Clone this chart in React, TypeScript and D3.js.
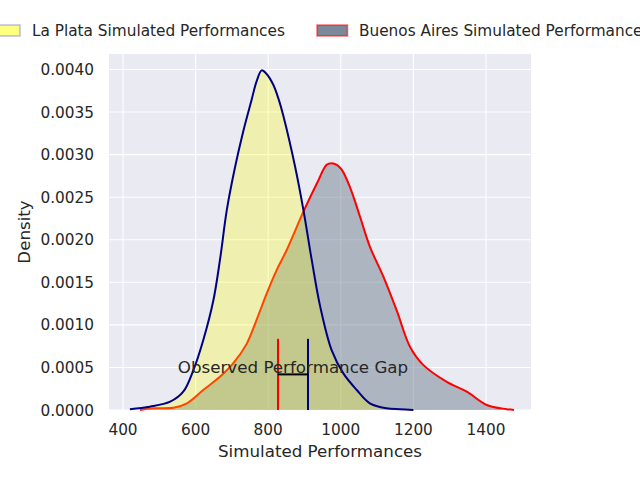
import React from "react";
import * as d3 from "d3";

const laPlataX = [419, 474, 530, 566, 594, 621, 649, 667, 686, 708, 731, 754, 768, 782, 795, 814, 828, 842, 874, 897, 920, 943, 975, 1007, 1044, 1080, 1126, 1163, 1200];
const laPlataY = [0.00001, 0.000039, 0.0000975, 0.000215, 0.00047, 0.00082, 0.00129, 0.00176, 0.00235, 0.00284, 0.00327, 0.00364, 0.00386, 0.00399, 0.00395, 0.00382, 0.00366, 0.00345, 0.00286, 0.00235, 0.00176, 0.00122, 0.0007, 0.00043, 0.000235, 0.000079, 0.00002, 0.00001, 0];

const buenosX = [447, 484, 539, 576, 621, 667, 704, 741, 768, 796, 823, 851, 897, 934, 961, 975, 989, 1003, 1025, 1053, 1080, 1117, 1154, 1191, 1227, 1292, 1347, 1402, 1457, 1477];
const buenosY = [0, 0.00002, 0.000027, 0.000079, 0.000235, 0.00039, 0.00055, 0.00078, 0.00106, 0.00137, 0.00164, 0.00188, 0.00233, 0.00266, 0.00288, 0.0029, 0.00288, 0.00282, 0.00262, 0.00227, 0.00192, 0.00157, 0.00117, 0.00074, 0.00053, 0.00033, 0.000215, 0.000059, 0.00001, 0];

const xTicks = [400, 600, 800, 1000, 1200, 1400];
const yTicks = [0, 0.0005, 0.001, 0.0015, 0.002, 0.0025, 0.003, 0.0035, 0.004];

const observedBuenos = 827;
const observedLaPlata = 909.6;
const gapLabel = "Observed Performance Gap";
const gapLabelY = 0.0005;
const seriesNames = ["La Plata Simulated Performances", "Buenos Aires Simulated Performances"];

const FONT = "DejaVu Sans, sans-serif";
const TXT = "#262626";

export default function App() {
  const left = 109, right = 531, top = 54, bottom = 410;
  const x = d3.scaleLinear().domain([361.4, 1524]).range([left, right]);
  const y = d3.scaleLinear().domain([0, 0.004182]).range([bottom, top]);

  const lp = laPlataX.map((v, i) => [v, laPlataY[i]] as [number, number]);
  const ba = buenosX.map((v, i) => [v, buenosY[i]] as [number, number]);

  const curve = d3.curveCatmullRom.alpha(0.5);
  const area = d3
    .area<[number, number]>()
    .x((d) => x(d[0]))
    .y0(y(0))
    .y1((d) => Math.min(y(0), y(d[1])))
    .curve(curve);
  const line = d3
    .line<[number, number]>()
    .x((d) => x(d[0]))
    .y((d) => y(d[1]))
    .curve(curve);

  const h = bottom - top;
  const vTop = bottom - 0.2 * h;
  const hY = bottom - 0.1 * h;

  return (
    <svg
      width={640}
      height={480}
      style={{ position: "absolute", left: 0, top: 0 }}
      fontFamily={FONT}
    >
      <defs>
        <clipPath id="plotclip">
          <rect x={left} y={top} width={right - left} height={bottom - top + 1} />
        </clipPath>
      </defs>
      <rect x={0} y={0} width={640} height={480} fill="#ffffff" />
      <rect x={left} y={top} width={right - left} height={bottom - top} fill="#eaeaf2" />
      {xTicks.map((t) => (
        <line key={"gx" + t} x1={x(t)} x2={x(t)} y1={top} y2={bottom} stroke="#ffffff" strokeWidth={1.1} />
      ))}
      {yTicks.map((t) => (
        <line key={"gy" + t} x1={left} x2={right} y1={y(t)} y2={y(t)} stroke="#ffffff" strokeWidth={1.1} />
      ))}

      <g clipPath="url(#plotclip)">
        <path d={area(ba) || ""} fill="rgb(112,128,144)" fillOpacity={0.5} />
        <path d={line(ba) || ""} fill="none" stroke="#ff0000" strokeWidth={2} />
        <path d={area(lp) || ""} fill="rgb(255,255,0)" fillOpacity={0.27} />
        <path d={line(lp) || ""} fill="none" stroke="#000080" strokeWidth={2} />
      </g>

      <line x1={x(observedBuenos)} x2={x(observedBuenos)} y1={bottom} y2={vTop} stroke="#ff0000" strokeWidth={2} />
      <line x1={x(observedLaPlata)} x2={x(observedLaPlata)} y1={bottom} y2={vTop} stroke="#000080" strokeWidth={2} />
      <line x1={x(observedBuenos)} x2={x(observedLaPlata)} y1={hY} y2={hY} stroke="#000000" strokeWidth={2} />
      <text
        x={x((observedBuenos + observedLaPlata) / 2)}
        y={y(gapLabelY) + 6}
        textAnchor="middle"
        fontSize={16.7}
        fill={TXT}
      >
        {gapLabel}
      </text>

      {xTicks.map((t) => (
        <text key={"tx" + t} x={x(t)} y={435} textAnchor="middle" fontSize={15.3} fill={TXT}>
          {t}
        </text>
      ))}
      {yTicks.map((t) => (
        <text key={"ty" + t} x={94} y={y(t) + 5.6} textAnchor="end" fontSize={15.3} fill={TXT}>
          {t.toFixed(4)}
        </text>
      ))}

      <text x={(left + right) / 2} y={457} textAnchor="middle" fontSize={16.7} fill={TXT}>
        Simulated Performances
      </text>
      <text
        transform={`translate(29.5, ${(top + bottom) / 2}) rotate(-90)`}
        textAnchor="middle"
        fontSize={16.7}
        fill={TXT}
      >
        Density
      </text>

      <rect x={-11} y={25} width={31} height={11} fill="rgb(255,255,128)" stroke="rgba(0,0,128,0.25)" strokeWidth={1.5} />
      <text x={32} y={36} fontSize={15.3} fill={TXT}>
        {seriesNames[0]}
      </text>
      <rect x={317} y={25} width={30.5} height={11} fill="rgb(122,136,153)" stroke="rgba(255,0,0,0.55)" strokeWidth={1.5} />
      <text x={359} y={36} fontSize={15.3} fill={TXT}>
        {seriesNames[1]}
      </text>
    </svg>
  );
}
